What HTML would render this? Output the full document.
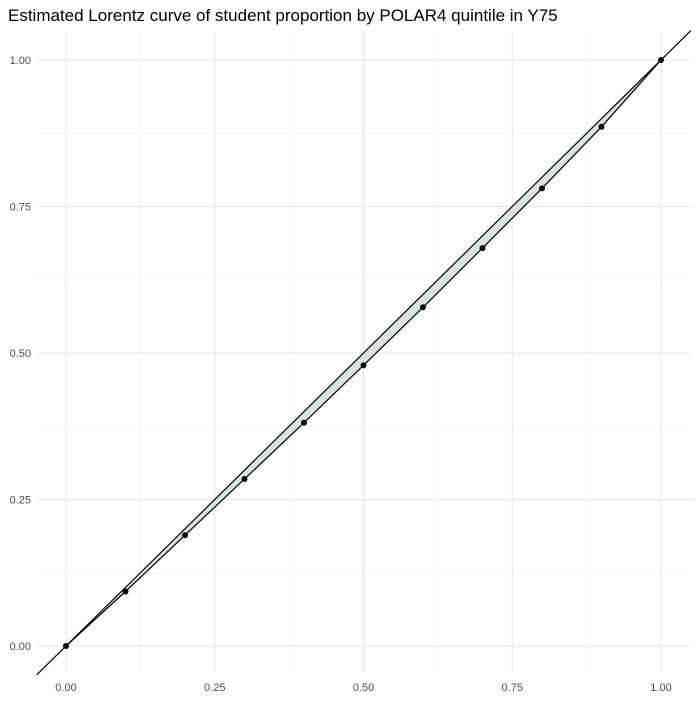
<!DOCTYPE html>
<html><head><meta charset="utf-8"><style>
body{margin:0;background:#fff;font-family:"Liberation Sans",sans-serif}
</style></head><body>
<svg id="chart" width="700" height="700" xmlns="http://www.w3.org/2000/svg">
<text x="8" y="21" font-size="17" fill="#000">Estimated Lorentz curve of student proportion by POLAR4 quintile in Y75</text>
<g id="grid"></g><g id="marks"></g><g id="axes"></g>
</svg>
<script>
const xs=[0,0.1,0.2,0.3,0.4,0.5,0.6,0.7,0.8,0.9,1];
const ys=[0,0.093,0.189,0.285,0.381,0.479,0.578,0.679,0.781,0.886,1];
const ticks=[0,0.25,0.5,0.75,1];
const tickLabels=["0.00","0.25","0.50","0.75","1.00"];
const minorTicks=[0.125,0.375,0.625,0.875];
const NS="http://www.w3.org/2000/svg";
const X=v=>66+v*595, Y=v=>646-v*586;
const L=37,R=692,T=32,B=673;
function mk(t,a,p){const e=document.createElementNS(NS,t);for(const k in a)e.setAttribute(k,a[k]);p.appendChild(e);return e;}
const g=document.getElementById('grid'),m=document.getElementById('marks'),ax=document.getElementById('axes');
minorTicks.forEach(v=>{
 let a=mk('line',{x1:X(v),x2:X(v),y1:T,y2:B,stroke:'#f0f0f0','stroke-width':0.7},g);
 
 let b=mk('line',{x1:L,x2:R,y1:Y(v),y2:Y(v),stroke:'#f0f0f0','stroke-width':0.7},g);
 
});
ticks.forEach((v,i)=>{
 let a=mk('line',{x1:X(v),x2:X(v),y1:T,y2:B,stroke:'#e6e6e6','stroke-width':1.1},g);
 
 let b=mk('line',{x1:L,x2:R,y1:Y(v),y2:Y(v),stroke:'#e6e6e6','stroke-width':1.1},g);
 
 let tx=mk('text',{x:X(v),y:691,'font-size':11,fill:'#4d4d4d','text-anchor':'middle'},ax);
 tx.textContent=tickLabels[i];
 
 let ty=mk('text',{x:31,y:Y(v)+4,'font-size':11,fill:'#4d4d4d','text-anchor':'end'},ax);
 ty.textContent=tickLabels[i];
 
});
let pts=xs.map((x,i)=>X(x)+','+Y(ys[i]));
let rev=xs.slice().reverse().map(x=>X(x)+','+Y(x));
let area=mk('polygon',{points:pts.concat(rev).join(' '),fill:'#d6e6dc',stroke:'none'},m);

let eq=mk('line',{x1:X(-0.049),y1:Y(-0.049),x2:X(1.05),y2:Y(1.05),stroke:'#000','stroke-width':1.2},m);

let curve=mk('polyline',{points:pts.join(' '),fill:'none',stroke:'#000','stroke-width':1.2},m);

xs.forEach((x,i)=>{
 let c=mk('circle',{cx:X(x),cy:Y(ys[i]),r:3,fill:'#000'},m);
 
});
</script>
</body></html>
